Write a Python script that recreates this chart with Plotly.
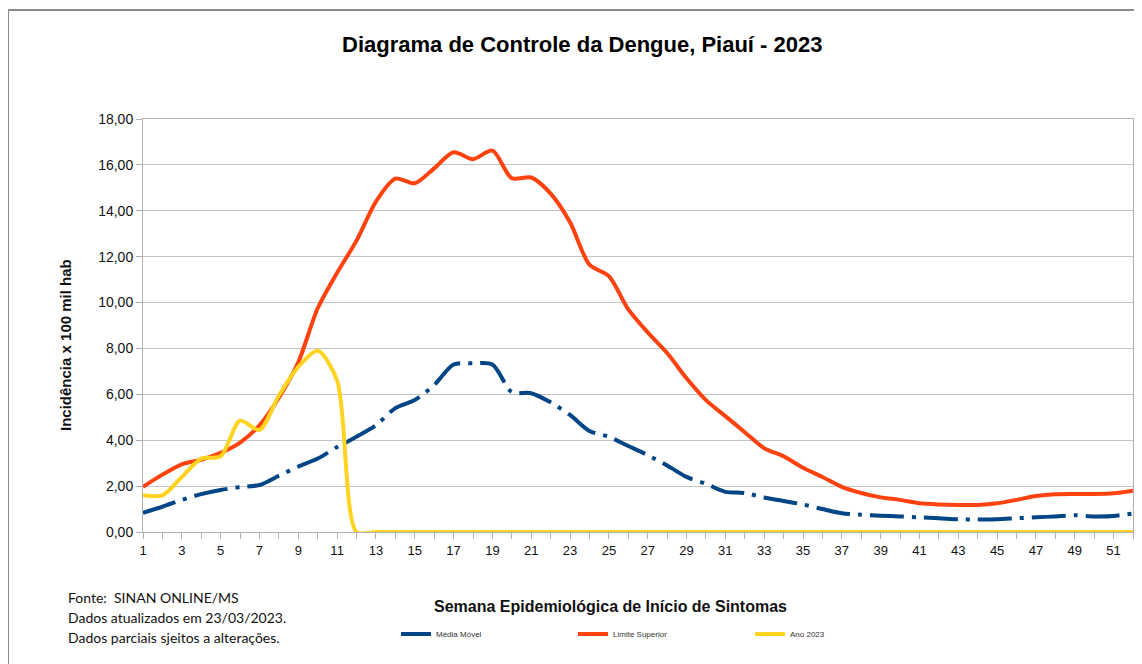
import plotly.graph_objects as go

semanas = list(range(1, 53))

media_movel = [0.84, 1.10, 1.40, 1.65, 1.83, 1.96, 2.05, 2.45, 2.85, 3.20,
               3.70, 4.15, 4.65, 5.40, 5.75, 6.40, 7.30, 7.35, 7.30, 6.10,
               6.05, 5.65, 5.10, 4.40, 4.15, 3.75, 3.35, 2.90, 2.40, 2.10,
               1.75, 1.70, 1.50, 1.35, 1.20, 1.00, 0.82, 0.75, 0.71, 0.68,
               0.64, 0.60, 0.55, 0.55, 0.56, 0.60, 0.64, 0.68, 0.73, 0.68,
               0.70, 0.81]

limite_superior = [1.97, 2.50, 2.95, 3.15, 3.45, 3.90, 4.65, 5.85, 7.40, 9.75,
                   11.30, 12.70, 14.40, 15.40, 15.20, 15.85, 16.55, 16.25, 16.62, 15.42,
                   15.45, 14.75, 13.50, 11.65, 11.15, 9.70, 8.70, 7.80, 6.70, 5.75,
                   5.05, 4.35, 3.65, 3.30, 2.80, 2.40, 1.97, 1.70, 1.51, 1.40,
                   1.25, 1.20, 1.18, 1.18, 1.25, 1.40, 1.57, 1.65, 1.66, 1.66,
                   1.69, 1.80]

ano_2023 = [1.60, 1.60, 2.40, 3.20, 3.30, 4.85, 4.45, 5.95, 7.20, 7.90,
            6.60, 0.00] + [0.00] * 40

x_tick_vals = semanas
x_tick_text = [str(w) if w % 2 == 1 else "" for w in semanas]
y_tick_vals = [0, 2, 4, 6, 8, 10, 12, 14, 16, 18]

titulo = "Diagrama de Controle da Dengue, Piauí - 2023"
titulo_x = "Semana Epidemiológica de Início de Sintomas"
titulo_y = "Incidência x 100 mil hab"
nota = ["Fonte:  SINAN ONLINE/MS",
        "Dados atualizados em 23/03/2023.",
        "Dados parciais sjeitos a alterações."]

# ---- layout geometry (pixels, page coordinates; page body has an 8px margin) ----
OFF = 8
W, H = 1142 - OFF, 664 - OFF
L, R, T, B = 143 - OFF, 1133 - OFF, 119 - OFF, 532 - OFF


def px(xp):
    return (xp - OFF - L) / (R - L)


def py(yp):
    return (B - (yp - OFF)) / (B - T)


fig = go.Figure()
fig.add_trace(go.Scatter(x=semanas, y=media_movel, name="Média Móvel", mode="lines",
                         line=dict(color="#004586", width=4, shape="spline", smoothing=0.8,
                                   dash="34px,8px,4px,8px")))
fig.add_trace(go.Scatter(x=semanas, y=limite_superior, name="Limite Superior", mode="lines",
                         line=dict(color="#FF420E", width=4, shape="spline", smoothing=0.8)))
fig.add_trace(go.Scatter(x=semanas, y=ano_2023, name="Ano 2023", mode="lines",
                         line=dict(color="#FFD320", width=4, shape="spline", smoothing=0.8)))

grid = "#c4c4c4"
fig.update_layout(
    width=W, height=H,
    margin=dict(l=L, r=W - R, t=T, b=H - B, pad=0),
    paper_bgcolor="white", plot_bgcolor="white",
    separators=",.",
    font=dict(family="Liberation Sans, Arial, sans-serif", color="#222"),
    showlegend=True,
    legend=dict(orientation="h", x=px(396), y=py(634), xanchor="left", yanchor="middle",
                font=dict(size=8, color="#333"), entrywidth=132, entrywidthmode="pixels",
                bgcolor="rgba(0,0,0,0)", itemclick=False),
    xaxis=dict(range=[1, 52], tickmode="array", tickvals=x_tick_vals, ticktext=x_tick_text,
               showgrid=False, showline=True, linecolor="#b0b0b0", linewidth=1, mirror=True,
               ticks="outside", ticklen=6, tickcolor="#b0b0b0",
               tickfont=dict(size=13, color="#111"), zeroline=False, fixedrange=True),
    yaxis=dict(range=[0, 18], tickmode="array", tickvals=y_tick_vals, tickformat=".2f",
               showgrid=True, gridcolor=grid, gridwidth=1,
               showline=True, linecolor="#b0b0b0", linewidth=1, mirror=True,
               ticks="outside", ticklen=6, tickcolor="#b0b0b0",
               tickfont=dict(size=14, color="#111"), zeroline=False, fixedrange=True),
)

annotations = [
    dict(text="<b>" + titulo + "</b>", x=px(582), y=py(45), xref="paper", yref="paper",
         showarrow=False, xanchor="center", yanchor="middle",
         font=dict(size=22, color="#000")),
    dict(text="<b>" + titulo_x + "</b>", x=px(610), y=py(606), xref="paper", yref="paper",
         showarrow=False, xanchor="center", yanchor="middle",
         font=dict(size=16, color="#111")),
    dict(text="<b>" + titulo_y + "</b>", x=px(65), y=py(345), xref="paper", yref="paper",
         showarrow=False, xanchor="center", yanchor="middle", textangle=-90,
         font=dict(size=15, color="#111")),
]
for i, linha in enumerate(nota):
    annotations.append(dict(text=linha, x=px(66), y=py(597 + 20 * i), xref="paper", yref="paper",
                            showarrow=False, xanchor="left", yanchor="middle",
                            font=dict(family="Lato, Open Sans, sans-serif", size=14, color="#111")))
fig.update_layout(annotations=annotations)

# outer chart frame (top and left edges visible)
fig.add_shape(type="line", xref="paper", yref="paper", x0=px(8), x1=px(1142), y0=py(10), y1=py(10),
              line=dict(color="#8a8a8a", width=2))
fig.add_shape(type="line", xref="paper", yref="paper", x0=px(8), x1=px(8), y0=py(10), y1=py(664),
              line=dict(color="#8a8a8a", width=2))

fig.write_html("out.html")
